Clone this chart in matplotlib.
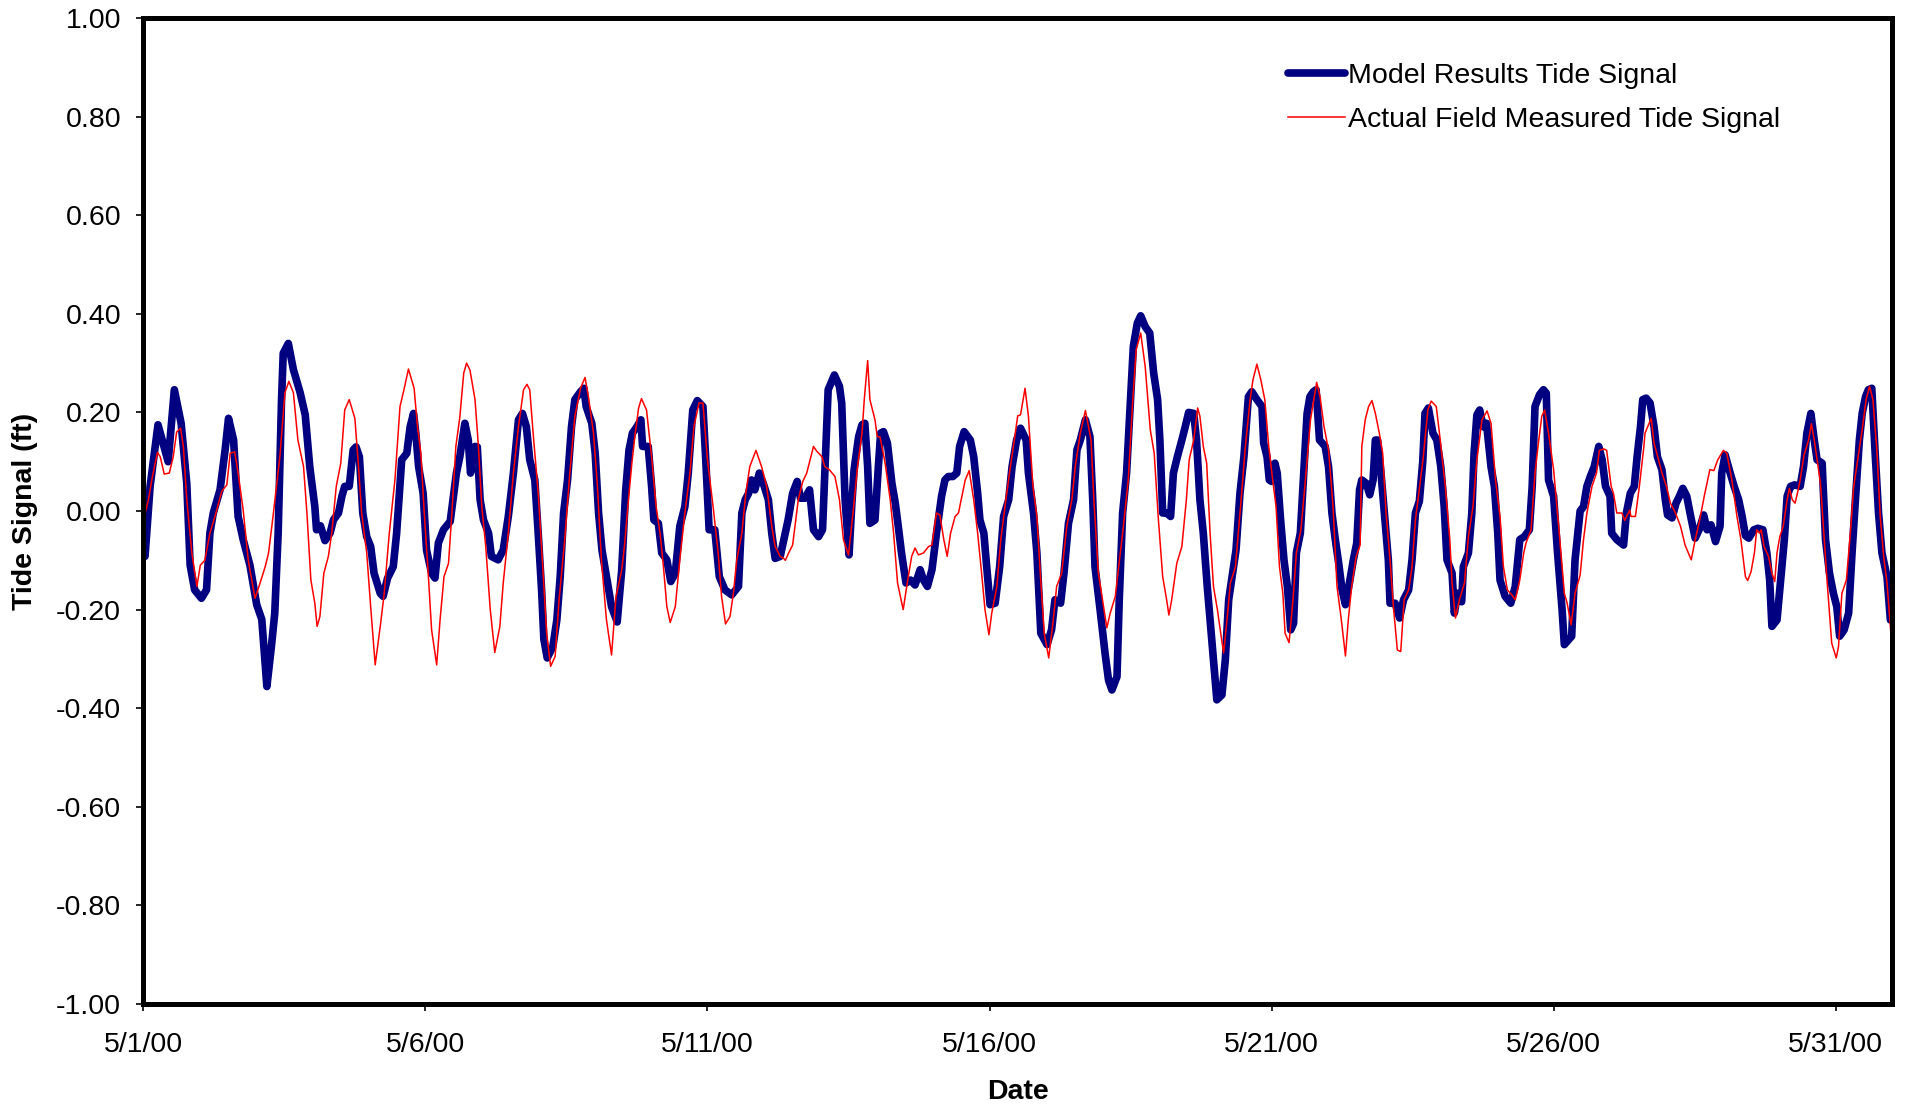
import matplotlib
matplotlib.use("Agg")
import matplotlib.pyplot as plt

plt.rcParams['font.family'] = ['Liberation Sans', 'DejaVu Sans']

# days after 5/1/00 00:00 and tide signal (ft)
model_days = [0.03, 0.12, 0.26, 0.44, 0.55, 0.67, 0.77, 0.83, 0.91, 1.03, 1.12, 1.18, 1.24, 1.36, 1.45, 1.51,
              1.60, 1.68, 1.77, 1.89, 2.01, 2.10, 2.19, 2.27, 2.33, 2.39, 2.45, 2.48, 2.57, 2.66, 2.78, 2.87,
              2.95, 3.04, 3.07, 3.14, 3.22, 3.31, 3.37, 3.46, 3.52, 3.57, 3.65, 3.72, 3.77, 3.83, 3.89, 3.96,
              4.03, 4.09, 4.20, 4.25, 4.33, 4.43, 4.49, 4.58, 4.67, 4.73, 4.79, 4.83, 4.88, 4.96, 5.02, 5.11,
              5.17, 5.23, 5.32, 5.44, 5.55, 5.61, 5.70, 5.76, 5.80, 5.88, 5.92, 5.97, 6.03, 6.12, 6.17, 6.29,
              6.38, 6.47, 6.56, 6.65, 6.72, 6.79, 6.85, 6.94, 7.00, 7.06, 7.10, 7.16, 7.26, 7.33, 7.39, 7.45,
              7.52, 7.59, 7.65, 7.75, 7.81, 7.85, 7.95, 8.01, 8.07, 8.13, 8.21, 8.30, 8.40, 8.48, 8.55, 8.61,
              8.67, 8.75, 8.82, 8.85, 8.95, 9.01, 9.05, 9.13, 9.19, 9.28, 9.35, 9.43, 9.51, 9.60, 9.66, 9.74,
              9.82, 9.92, 9.97, 10.03, 10.13, 10.21, 10.31, 10.43, 10.55, 10.61, 10.67, 10.73, 10.78, 10.84,
              10.92, 10.99, 11.08, 11.14, 11.20, 11.29, 11.35, 11.43, 11.51, 11.59, 11.65, 11.73, 11.81, 11.88,
              11.97, 12.04, 12.08, 12.14, 12.25, 12.34, 12.38, 12.44, 12.51, 12.56, 12.60, 12.68, 12.74, 12.79,
              12.84, 12.88, 12.97, 13.03, 13.07, 13.12, 13.19, 13.27, 13.33, 13.39, 13.44, 13.52, 13.60, 13.68,
              13.77, 13.83, 13.90, 13.98, 14.06, 14.15, 14.21, 14.27, 14.35, 14.42, 14.47, 14.55, 14.66, 14.72,
              14.79, 14.83, 14.90, 14.95, 15.01, 15.10, 15.18, 15.25, 15.34, 15.40, 15.48, 15.55, 15.65, 15.69,
              15.78, 15.84, 15.91, 16.02, 16.10, 16.16, 16.26, 16.32, 16.40, 16.49, 16.55, 16.61, 16.70, 16.78,
              16.83, 16.87, 16.96, 17.05, 17.11, 17.17, 17.26, 17.30, 17.36, 17.43, 17.49, 17.55, 17.62, 17.68,
              17.76, 17.84, 17.91, 17.98, 18.02, 18.07, 18.14, 18.21, 18.26, 18.33, 18.41, 18.47, 18.53, 18.62,
              18.67, 18.73, 18.79, 18.86, 18.93, 18.97, 19.03, 19.12, 19.18, 19.24, 19.30, 19.37, 19.44, 19.51,
              19.59, 19.65, 19.74, 19.83, 19.86, 19.92, 19.96, 20.00, 20.06, 20.10, 20.16, 20.22, 20.28, 20.34,
              20.39, 20.44, 20.51, 20.57, 20.63, 20.68, 20.74, 20.79, 20.85, 20.95, 21.01, 21.07, 21.13, 21.19,
              21.25, 21.31, 21.38, 21.45, 21.51, 21.56, 21.60, 21.68, 21.74, 21.80, 21.84, 21.88, 21.94, 22.00,
              22.07, 22.10, 22.19, 22.27, 22.34, 22.43, 22.49, 22.55, 22.62, 22.68, 22.72, 22.78, 22.86, 22.93,
              23.00, 23.06, 23.11, 23.20, 23.24, 23.30, 23.37, 23.40, 23.49, 23.55, 23.59, 23.64, 23.69, 23.75,
              23.81, 23.89, 23.95, 24.01, 24.05, 24.14, 24.24, 24.32, 24.40, 24.48, 24.57, 24.62, 24.67, 24.75,
              24.82, 24.87, 24.91, 25.00, 25.07, 25.15, 25.19, 25.32, 25.38, 25.47, 25.53, 25.59, 25.65, 25.72,
              25.80, 25.86, 25.92, 26.00, 26.03, 26.12, 26.24, 26.29, 26.36, 26.43, 26.48, 26.54, 26.58, 26.64,
              26.71, 26.78, 26.84, 26.92, 26.98, 27.02, 27.10, 27.17, 27.23, 27.29, 27.36, 27.43, 27.51, 27.59,
              27.66, 27.72, 27.79, 27.87, 27.95, 27.98, 28.04, 28.13, 28.20, 28.28, 28.34, 28.40, 28.46, 28.55,
              28.62, 28.71, 28.78, 28.83, 28.87, 28.96, 29.02, 29.09, 29.14, 29.20, 29.27, 29.37, 29.43, 29.49,
              29.56, 29.62, 29.67, 29.76, 29.82, 29.89, 29.96, 30.02, 30.07, 30.15, 30.23, 30.29, 30.35, 30.42,
              30.47, 30.53, 30.58, 30.64, 30.70, 30.76, 30.82, 30.91, 30.97]
model_vals = [-0.092, 0.05, 0.175, 0.10, 0.246, 0.178, 0.056, -0.11, -0.16, -0.177, -0.16, -0.045, -0.004, 0.043, 0.124, 0.188,
              0.144, -0.011, -0.058, -0.11, -0.19, -0.22, -0.356, -0.275, -0.207, -0.045, 0.226, 0.32, 0.34, 0.287, 0.24, 0.195,
              0.09, 0.009, -0.038, -0.03, -0.06, -0.045, -0.018, -0.004, 0.03, 0.05, 0.05, 0.124, 0.13, 0.11, -0.004, -0.052,
              -0.072, -0.126, -0.167, -0.173, -0.136, -0.113, -0.045, 0.104, 0.117, 0.171, 0.198, 0.158, 0.09, 0.036, -0.079, -0.126,
              -0.136, -0.065, -0.038, -0.021, 0.077, 0.11, 0.178, 0.144, 0.077, 0.131, 0.13, 0.023, -0.018, -0.045, -0.092, -0.099,
              -0.079, -0.011, 0.077, 0.185, 0.198, 0.171, 0.104, 0.063, -0.045, -0.16, -0.26, -0.298, -0.275, -0.221, -0.133, -0.004,
              0.063, 0.171, 0.226, 0.242, 0.249, 0.212, 0.178, 0.117, -0.004, -0.079, -0.133, -0.194, -0.225, -0.12, 0.04, 0.124,
              0.158, 0.171, 0.185, 0.131, 0.131, 0.05, -0.018, -0.025, -0.085, -0.099, -0.143, -0.126, -0.031, 0.009, 0.077, 0.205,
              0.224, 0.212, 0.104, -0.038, -0.038, -0.133, -0.16, -0.17, -0.153, -0.004, 0.023, 0.036, 0.063, 0.043,
              0.077, 0.056, 0.023, -0.045, -0.096, -0.092, -0.06, -0.018, 0.036, 0.06, 0.026, 0.026, 0.043, -0.038,
              -0.052, -0.038, 0.077, 0.246, 0.276, 0.253, 0.219, 0.023, -0.089, 0.016, 0.084, 0.151, 0.175, 0.178,
              0.09, -0.025, -0.018, 0.09, 0.158, 0.161, 0.138, 0.056, 0.016, -0.038, -0.085, -0.146, -0.14, -0.15,
              -0.119, -0.14, -0.153, -0.119, -0.045, 0.03, 0.063, 0.07, 0.07, 0.077, 0.131, 0.161, 0.144, 0.11,
              0.036, -0.018, -0.045, -0.113, -0.19, -0.187, -0.113, -0.011, 0.023, 0.09, 0.144, 0.168, 0.144, 0.077,
              -0.004, -0.085, -0.248, -0.271, -0.241, -0.18, -0.187, -0.126, -0.025, 0.023, 0.124, 0.144, 0.185, 0.151,
              0.023, -0.113, -0.2, -0.29, -0.343, -0.363, -0.336, -0.18, -0.004, 0.077, 0.205, 0.334, 0.381, 0.396,
              0.374, 0.361, 0.28, 0.226, 0.144, -0.004, -0.004, -0.011, 0.077, 0.11, 0.144, 0.171, 0.2, 0.198,
              0.144, 0.023, -0.045, -0.153, -0.248, -0.302, -0.383, -0.373, -0.302, -0.18, -0.133, -0.079, 0.036, 0.11,
              0.232, 0.242, 0.226, 0.212, 0.138, 0.11, 0.063, 0.06, 0.097, 0.077, -0.018, -0.099, -0.153, -0.241,
              -0.228, -0.085, -0.045, 0.077, 0.198, 0.232, 0.242, 0.246, 0.144, 0.131, 0.09, -0.004, -0.058, -0.106,
              -0.16, -0.19, -0.146, -0.099, -0.065, 0.043, 0.063, 0.056, 0.033, 0.063, 0.144, 0.144, 0.077, -0.004,
              -0.099, -0.187, -0.187, -0.217, -0.18, -0.16, -0.099, -0.004, 0.02, 0.10, 0.198, 0.209, 0.158, 0.144,
              0.09, 0.009, -0.099, -0.126, -0.207, -0.167, -0.184, -0.113, -0.085, -0.004, 0.117, 0.195, 0.205, 0.171,
              0.178, 0.09, 0.05, -0.045, -0.14, -0.173, -0.187, -0.153, -0.058, -0.052, -0.038, 0.05, 0.212, 0.236,
              0.246, 0.239, 0.063, 0.03, -0.085, -0.2, -0.271, -0.254, -0.099, 0.0, 0.009, 0.05, 0.07, 0.09,
              0.131, 0.104, 0.05, 0.03, -0.045, -0.058, -0.069, -0.004, 0.036, 0.05, 0.11, 0.171, 0.226, 0.229,
              0.219, 0.171, 0.11, 0.084, 0.023, -0.008, -0.014, 0.016, 0.03, 0.046, 0.03, -0.011, -0.055, -0.035,
              -0.008, -0.038, -0.028, -0.062, -0.031, 0.077, 0.114, 0.077, 0.05, 0.023, -0.01, -0.05, -0.055, -0.038,
              -0.035, -0.038, -0.085, -0.14, -0.234, -0.221, -0.146, -0.058, 0.03, 0.05, 0.053, 0.05, 0.09, 0.158,
              0.198, 0.144, 0.104, 0.097, -0.058, -0.126, -0.167, -0.194, -0.254, -0.241, -0.207, -0.085, 0.023, 0.144,
              0.198, 0.232, 0.246, 0.249, 0.117, -0.004, -0.085, -0.133, -0.221]

field_days = [0.00, 0.09, 0.15, 0.25, 0.30, 0.37, 0.46, 0.53, 0.59, 0.66, 0.71, 0.77, 0.86, 0.95, 1.01, 1.09,
              1.18, 1.27, 1.39, 1.48, 1.54, 1.62, 1.68, 1.77, 1.86, 1.98, 2.07, 2.16, 2.22, 2.30, 2.42, 2.51,
              2.58, 2.66, 2.74, 2.84, 2.90, 2.97, 3.04, 3.08, 3.13, 3.20, 3.28, 3.34, 3.42, 3.50, 3.57, 3.65,
              3.75, 3.81, 3.87, 3.96, 4.03, 4.11, 4.20, 4.27, 4.36, 4.46, 4.55, 4.62, 4.70, 4.80, 4.86, 4.92,
              4.98, 5.05, 5.11, 5.20, 5.26, 5.33, 5.41, 5.47, 5.54, 5.61, 5.68, 5.73, 5.79, 5.88, 5.94, 6.00,
              6.07, 6.15, 6.23, 6.32, 6.38, 6.47, 6.56, 6.65, 6.74, 6.80, 6.85, 6.91, 7.00, 7.08, 7.15, 7.22,
              7.30, 7.37, 7.47, 7.56, 7.65, 7.75, 7.83, 7.89, 7.98, 8.05, 8.12, 8.21, 8.30, 8.38, 8.48, 8.53,
              8.60, 8.66, 8.72, 8.78, 8.83, 8.92, 9.01, 9.09, 9.16, 9.22, 9.28, 9.34, 9.43, 9.51, 9.60, 9.69,
              9.76, 9.85, 9.92, 10.00, 10.10, 10.19, 10.25, 10.32, 10.40, 10.46, 10.52, 10.61, 10.68, 10.75,
              10.86, 10.96, 11.05, 11.14, 11.20, 11.29, 11.35, 11.38, 11.44, 11.51, 11.61, 11.69, 11.76, 11.88,
              11.94, 12.03, 12.08, 12.16, 12.26, 12.34, 12.41, 12.50, 12.58, 12.66, 12.74, 12.78, 12.84, 12.88,
              12.97, 13.01, 13.06, 13.15, 13.24, 13.30, 13.37, 13.47, 13.55, 13.62, 13.68, 13.74, 13.83, 13.92,
              13.98, 14.06, 14.12, 14.19, 14.25, 14.31, 14.39, 14.45, 14.51, 14.57, 14.64, 14.72, 14.79, 14.86,
              14.92, 14.99, 15.04, 15.13, 15.20, 15.29, 15.37, 15.44, 15.50, 15.55, 15.63, 15.69, 15.77, 15.84,
              15.90, 15.97, 16.05, 16.13, 16.19, 16.28, 16.37, 16.46, 16.52, 16.61, 16.70, 16.80, 16.85, 16.93,
              16.99, 17.08, 17.14, 17.23, 17.29, 17.36, 17.46, 17.54, 17.60, 17.68, 17.76, 17.85, 17.92, 17.99,
              18.07, 18.14, 18.18, 18.23, 18.32, 18.41, 18.49, 18.54, 18.62, 18.69, 18.73, 18.79, 18.85, 18.91,
              18.97, 19.04, 19.09, 19.15, 19.21, 19.27, 19.36, 19.41, 19.47, 19.53, 19.62, 19.67, 19.74, 19.81,
              19.88, 19.95, 20.02, 20.08, 20.14, 20.20, 20.24, 20.31, 20.38, 20.44, 20.52, 20.60, 20.69, 20.74,
              20.80, 20.86, 20.93, 21.01, 21.09, 21.16, 21.23, 21.31, 21.36, 21.42, 21.50, 21.57, 21.60, 21.66,
              21.72, 21.78, 21.84, 21.91, 21.97, 22.03, 22.10, 22.16, 22.23, 22.29, 22.35, 22.43, 22.49, 22.55,
              22.62, 22.69, 22.77, 22.83, 22.92, 22.99, 23.08, 23.16, 23.20, 23.26, 23.33, 23.42, 23.49, 23.57,
              23.64, 23.73, 23.82, 23.89, 23.97, 24.05, 24.11, 24.18, 24.26, 24.32, 24.40, 24.47, 24.51, 24.60,
              24.67, 24.73, 24.79, 24.84, 24.91, 25.00, 25.11, 25.19, 25.24, 25.31, 25.38, 25.47, 25.53, 25.59,
              25.68, 25.76, 25.81, 25.89, 25.94, 26.02, 26.06, 26.12, 26.21, 26.26, 26.35, 26.37, 26.45, 26.52,
              26.60, 26.62, 26.73, 26.78, 26.86, 26.92, 27.00, 27.07, 27.16, 27.25, 27.33, 27.44, 27.51, 27.59,
              27.67, 27.77, 27.84, 27.91, 27.98, 28.01, 28.07, 28.16, 28.25, 28.32, 28.40, 28.44, 28.50, 28.56,
              28.60, 28.65, 28.68, 28.73, 28.81, 28.87, 28.92, 28.96, 29.01, 29.07, 29.14, 29.18, 29.23, 29.28,
              29.33, 29.37, 29.44, 29.52, 29.57, 29.62, 29.68, 29.73, 29.79, 29.85, 29.93, 30.01, 30.05, 30.11,
              30.19, 30.26, 30.32, 30.39, 30.47, 30.54, 30.60, 30.66, 30.73, 30.79, 30.85, 30.91, 30.97, 31.02]
field_vals = [-0.02, 0.023, 0.063, 0.119, 0.11, 0.075, 0.077, 0.11, 0.16, 0.168, 0.13, 0.023, -0.085, -0.153, -0.11, -0.10,
              -0.045, -0.011, 0.04, 0.053, 0.117, 0.12, 0.077, 0.002, -0.10, -0.177, -0.146, -0.113, -0.085, -0.01, 0.11, 0.24,
              0.263, 0.24, 0.144, 0.09, -0.004, -0.14, -0.187, -0.234, -0.214, -0.126, -0.092, -0.045, 0.05, 0.097, 0.205, 0.226,
              0.188, 0.097, -0.004, -0.085, -0.194, -0.312, -0.234, -0.167, -0.045, 0.063, 0.212, 0.246, 0.288, 0.249, 0.171, 0.117,
              -0.004, -0.126, -0.241, -0.312, -0.221, -0.133, -0.106, -0.004, 0.131, 0.19, 0.28, 0.30, 0.286, 0.226, 0.131, 0.009,
              -0.072, -0.2, -0.287, -0.234, -0.146, -0.045, 0.077, 0.171, 0.246, 0.257, 0.246, 0.158, 0.036, -0.113, -0.248, -0.315,
              -0.295, -0.18, -0.058, 0.077, 0.192, 0.249, 0.271, 0.232, 0.158, 0.05, -0.099, -0.221, -0.292, -0.173, -0.12, -0.07,
              0.023, 0.097, 0.158, 0.209, 0.228, 0.205, 0.11, 0.009, -0.045, -0.113, -0.194, -0.226, -0.194, -0.099, -0.004, 0.077,
              0.171, 0.219, 0.219, 0.104, 0.009, -0.085, -0.173, -0.229, -0.214, -0.167, -0.099, -0.045, 0.036, 0.09,
              0.123, 0.09, 0.05, -0.031, -0.072, -0.092, -0.096, -0.10, -0.085, -0.069, 0.023, 0.06, 0.077, 0.131,
              0.121, 0.11, 0.09, 0.084, 0.07, 0.023, -0.058, -0.089, -0.004, 0.09, 0.158, 0.226, 0.305, 0.226,
              0.185, 0.151, 0.15, 0.097, 0.023, -0.045, -0.146, -0.2, -0.14, -0.092, -0.075, -0.089, -0.085, -0.072,
              -0.069, -0.004, -0.008, -0.058, -0.092, -0.045, -0.011, -0.004, 0.03, 0.063, 0.082, 0.023, -0.045, -0.126,
              -0.2, -0.251, -0.207, -0.153, -0.058, 0.023, 0.09, 0.144, 0.193, 0.195, 0.249, 0.192, 0.05, -0.011,
              -0.126, -0.248, -0.298, -0.221, -0.153, -0.126, -0.031, 0.023, 0.09, 0.158, 0.204, 0.144, 0.023, -0.126,
              -0.17, -0.237, -0.207, -0.173, -0.113, -0.045, 0.063, 0.226, 0.327, 0.361, 0.293, 0.165, 0.117, -0.011,
              -0.133, -0.18, -0.211, -0.18, -0.106, -0.072, 0.023, 0.104, 0.144, 0.209, 0.192, 0.131, 0.097, -0.045,
              -0.153, -0.2, -0.241, -0.288, -0.221, -0.146, -0.113, -0.045, 0.036, 0.124, 0.226, 0.266, 0.298, 0.266,
              0.226, 0.131, 0.063, 0.009, -0.113, -0.167, -0.248, -0.267, -0.18, -0.085, -0.038, 0.063, 0.185, 0.219,
              0.261, 0.232, 0.171, 0.124, 0.009, -0.153, -0.214, -0.294, -0.221, -0.153, -0.092, -0.069, 0.131, 0.185,
              0.212, 0.224, 0.198, 0.158, 0.117, -0.004, -0.099, -0.194, -0.282, -0.285, -0.18, -0.16, -0.113, -0.018,
              0.045, 0.11, 0.205, 0.223, 0.212, 0.144, 0.05, -0.058, -0.146, -0.217, -0.18, -0.146, -0.052, 0.009,
              0.104, 0.185, 0.203, 0.178, 0.063, -0.011, -0.113, -0.16, -0.17, -0.18, -0.14, -0.085, -0.065, -0.038,
              0.077, 0.138, 0.192, 0.205, 0.158, 0.084, -0.058, -0.167, -0.187, -0.231, -0.167, -0.13, -0.058, -0.004,
              0.05, 0.077, 0.123, 0.126, 0.123, 0.05, 0.036, -0.004, -0.004, -0.019, 0.002, -0.011, -0.011, 0.05,
              0.131, 0.158, 0.188, 0.138, 0.104, 0.077, 0.05, 0.016, -0.004, -0.031, -0.069, -0.099, -0.058, -0.018,
              0.03, 0.084, 0.082, 0.104, 0.117, 0.123, 0.117, 0.063, -0.011, -0.058, -0.133, -0.141, -0.123, -0.085,
              -0.038, -0.045, -0.038, -0.072, -0.092, -0.126, -0.143, -0.085, -0.052, -0.031, 0.023, 0.046, 0.023, 0.016,
              0.04, 0.063, 0.114, 0.144, 0.177, 0.144, 0.097, 0.056, -0.045, -0.146, -0.268, -0.298, -0.275, -0.167,
              -0.14, -0.045, 0.05, 0.104, 0.165, 0.226, 0.253, 0.226, 0.124, -0.011, -0.092, -0.146, -0.234, -0.309]

date_ticks = [0, 5, 10, 15, 20, 25, 30]
date_labels = ['5/1/00', '5/6/00', '5/11/00', '5/16/00', '5/21/00', '5/26/00', '5/31/00']
y_ticks = [-1.0, -0.8, -0.6, -0.4, -0.2, 0.0, 0.2, 0.4, 0.6, 0.8, 1.0]

fig = plt.figure(figsize=(19.06, 11.06), dpi=100)
ax = fig.add_axes([0.0752, 0.0922, 0.9175, 0.8915])

ax.plot(model_days, model_vals, color='#000080', lw=5.5, solid_joinstyle='round',
        solid_capstyle='round', label='Model Results Tide Signal')
ax.plot(field_days, field_vals, color='#FF0000', lw=1.1, label='Actual Field Measured Tide Signal')

ax.set_xlim(0, 31)
ax.set_ylim(-1.0, 1.0)
ax.set_xticks(date_ticks)
ax.set_xticklabels(date_labels)
ax.set_yticks(y_ticks)
ax.set_yticklabels(['%.2f' % v for v in y_ticks])
ax.tick_params(axis='both', labelsize=20.5, direction='out', length=5, width=1.2)
ax.tick_params(axis='y', pad=11)
ax.tick_params(axis='x', pad=15)

for s in ax.spines.values():
    s.set_linewidth(3.6)

ax.set_xlabel('Date', fontsize=20.5, fontweight='bold', labelpad=15)
ax.set_ylabel('Tide Signal (ft)', fontsize=20.5, fontweight='bold', labelpad=13)

leg = ax.legend(loc='upper left', bbox_to_anchor=(0.64, 0.98), frameon=False, fontsize=20.5,
                handlelength=2.0, handletextpad=0.1, labelspacing=0.62)

fig.savefig('out.png', dpi=100)
